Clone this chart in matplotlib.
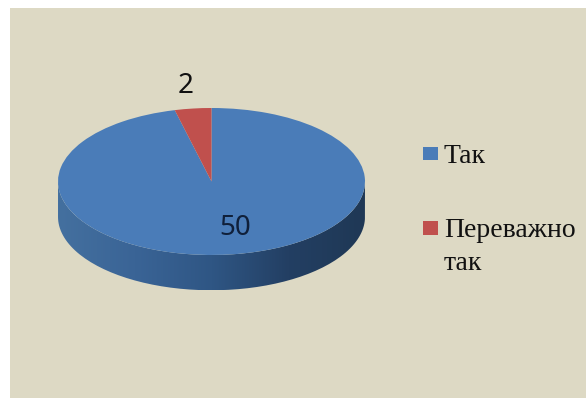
import numpy as np
import matplotlib
matplotlib.use('Agg')
import matplotlib.pyplot as plt
from matplotlib.colors import LinearSegmentedColormap
from matplotlib.patches import Rectangle, PathPatch
from matplotlib.path import Path

labels = ['Так', 'Переважно\nтак']
values = [50, 2]
colors = ['#4a7cb8', '#c0504d']

W, H = 586, 398
fig = plt.figure(figsize=(W / 100, H / 100), dpi=100, facecolor='white')

# tan panel behind everything
fig.add_artist(Rectangle((10 / W, 0), 1 - 10 / W, 1 - 8 / H, transform=fig.transFigure,
                         facecolor='#ddd9c4', edgecolor='none', zorder=-1))

# unit circle of the pie is squashed into the top ellipse
ax = fig.add_axes([58 / W, 1 - 255 / H, 307 / W, 147 / H])
wedges, _ = ax.pie(values, colors=colors, startangle=90, counterclock=False,
                   wedgeprops={'linewidth': 0})
ax.set_aspect('auto')
for w in wedges:
    w.set_zorder(3)
    w.set_clip_on(False)

# side of the disc, gradient clipped to the rim
depth = 0.48
t = np.linspace(np.pi, 2 * np.pi, 100)
rim_x = np.cos(t)
rim_y = np.sin(t)
xs = np.concatenate([rim_x, rim_x[::-1]])
ys = np.concatenate([rim_y, rim_y[::-1] - depth])
side = PathPatch(Path(np.column_stack([xs, ys])), facecolor='none', edgecolor='none', clip_on=False)
ax.add_patch(side)
cmap = LinearSegmentedColormap.from_list(
    'side', ['#44709f', '#3a6496', '#2f5684', '#233f63', '#1f3855'])
img = ax.imshow(np.linspace(0, 1, 256)[None, :], cmap=cmap, aspect='auto',
                extent=(-1, 1, -1 - depth, 0.1), zorder=2)
img.set_clip_box(fig.bbox)
img.set_clip_path(side)
ax.set_xlim(-1, 1)
ax.set_ylim(-1, 1)

# data labels
fig.text(235 / W, 1 - 228 / H, str(values[0]), family='Noto Sans', fontsize=20,
         color='#10203a', ha='center', va='center')
fig.text(186 / W, 1 - 86 / H, str(values[1]), family='Noto Sans', fontsize=20,
         color='#111111', ha='center', va='center')

# legend
leg_y = [147, 221]
text_base = [163, 237]
for lab, col, my, by in zip(labels, colors, leg_y, text_base):
    fig.add_artist(Rectangle((423 / W, 1 - (my + 13.5) / H), 15 / W, 13.5 / H,
                             transform=fig.transFigure, facecolor=col, edgecolor='none'))
    for i, line in enumerate(lab.split('\n')):
        fig.text(444 / W, 1 - (by + i * 33) / H, line, family='Liberation Serif', fontsize=20,
                 color='#111111', ha='left', va='baseline')

fig.savefig('out.png', dpi=100, facecolor='white')
